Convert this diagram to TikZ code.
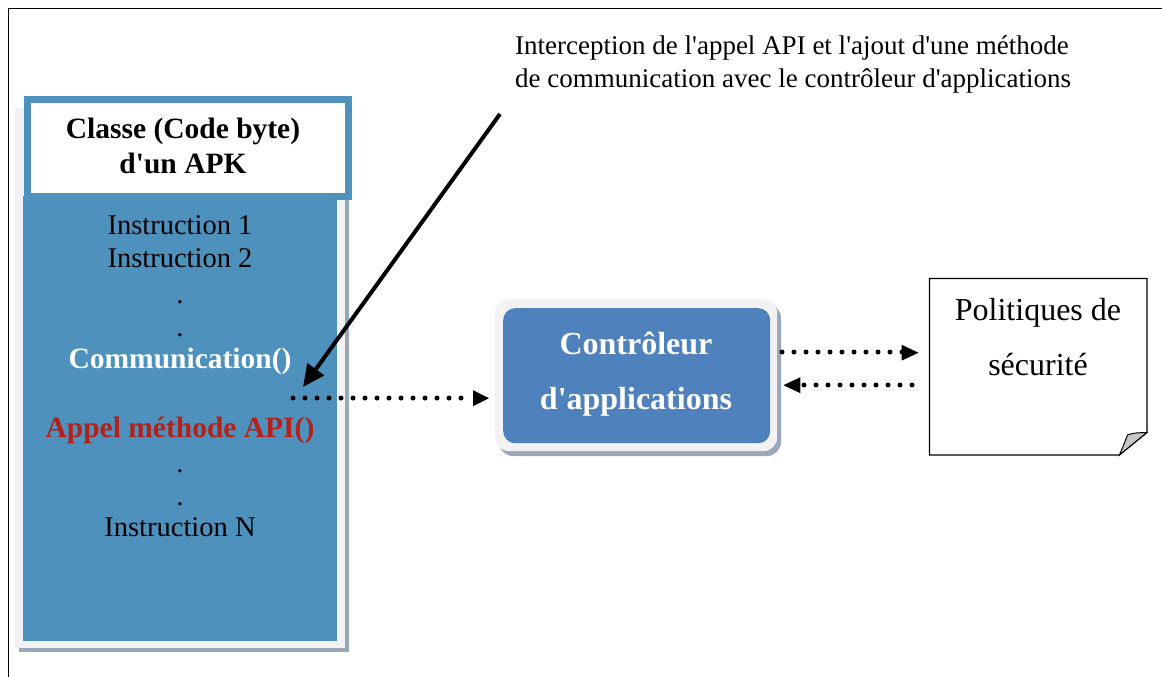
\documentclass[tikz,border=0pt]{standalone}
\usepackage{fontspec}
\setmainfont{Liberation Serif}[Ligatures=TeXOff]
\usetikzlibrary{arrows.meta,calc}
\definecolor{colblue}{HTML}{4E91BC}
\definecolor{ctlblue}{HTML}{4F81BD}
\definecolor{panelgray}{HTML}{F2F2F2}
\definecolor{shadowc}{HTML}{9AA6BA}
\definecolor{apired}{HTML}{B3211A}
\tikzset{
  txt/.style={font=\fontsize{28.5}{32}\selectfont, inner sep=0pt, anchor=base},
  btxt/.style={txt, font=\fontsize{29.5}{32}\selectfont\bfseries},
  bigtxt/.style={txt, font=\fontsize{32}{36}\selectfont},
  bigbtxt/.style={txt, font=\fontsize{32}{36}\selectfont\bfseries},
  toptxt/.style={txt, font=\fontsize{27}{30}\selectfont, anchor=base west},
  dotline/.style={line width=5pt, line cap=round, dash pattern=on 0pt off 12pt},
}
\begin{document}
\begin{tikzpicture}[x=1pt,y=-1pt]
\useasboundingbox (0,0) rectangle (1162,677);
% outer frame (left and top only visible)
\draw[line width=1.5pt] (8.5,677) -- (8.5,8.5) -- (1162,8.5);

% left column
\fill[shadowc] (19,110) rectangle (349,652);
\node[fill=panelgray, minimum width=330, minimum height=540, inner sep=0pt, anchor=north west] (panel) at (15,108) {};
\node[fill=colblue, minimum width=314, minimum height=445, inner sep=0pt, anchor=north west] (body) at (23,196) {};
\node[draw=colblue, line width=7pt, fill=white, minimum width=321, minimum height=97, inner sep=0pt, anchor=north west] (header) at (23.5,95.5) {};
\node[btxt] (h1) at (183,138) {Classe (Code byte)};
\node[btxt] (h2) at (183,173) {d'un APK};
\node[txt] (i1) at (180,234) {Instruction 1};
\node[txt] (i2) at (180,267) {Instruction 2};
\node[txt] (d1) at (180,303) {.};
\node[txt] (d2) at (180,336) {.};
\node[btxt, text=white] (comm) at (180,368) {Communication()};
\node[btxt, text=apired] (api) at (180,437) {Appel méthode API()};
\node[txt] (d3) at (180,472) {.};
\node[txt] (d4) at (180,505) {.};
\node[txt] (iN) at (180,536) {Instruction N};

% controller
\fill[shadowc, rounded corners=14pt] (499,304) rectangle (781,456);
\node[fill=panelgray, rounded corners=14pt, minimum width=282, minimum height=152, inner sep=0pt, anchor=north west] (ctlout) at (495,299) {};
\node[fill=ctlblue, rounded corners=12pt, minimum width=267, minimum height=135, inner sep=0pt, anchor=north west] (ctl) at (503,308) {};
\node[bigbtxt, text=white] (c1) at (636,354) {Contrôleur};
\node[bigbtxt, text=white] (c2) at (636,409) {d'applications};

% policy note
\node[minimum width=217, minimum height=176, inner sep=0pt, anchor=north west] (pol) at (929.5,278.5) {};
\draw[line width=1.2pt, fill=white] (pol.north west) -- (pol.north east) -- ($(pol.north east)+(0,154)$) -- ($(pol.south west)+(190,0)$) -- (pol.south west) -- cycle;
\draw[line width=1pt, fill=gray!45] ($(pol.south west)+(190,0)$) .. controls ($(pol.south west)+(195,-12)$) .. ($(pol.south west)+(198,-20)$) .. controls ($(pol.south west)+(205,-22)$) .. ($(pol.north east)+(0,154)$) -- cycle;
\node[bigtxt] (p1) at (1038,320) {Politiques de};
\node[bigtxt] (p2) at (1038,375) {sécurité};

% top annotation
\node[toptxt] (t1) at (515,55) {Interception de l'appel API et l'ajout d'une méthode};
\node[toptxt] (t2) at (515,88) {de communication avec le contrôleur d'applications};

% connectors
\coordinate (astart) at (500,114);
\coordinate (aend) at (303,387);
\draw[line width=4pt, -{Triangle[length=22pt,width=20pt]}] (astart) -- (aend);

% Class -> controller
\coordinate (s1) at (293,398);
\coordinate (s2) at (472,398);
\draw[dotline] (s1) -- (s2);
\fill ($(ctlout.west)+(-6,23)$) -- ++(-16,-8) -- ++(0,16) -- cycle;

% controller -> policies
\coordinate (r1) at (782,352);
\coordinate (r2) at (903,352);
\draw[dotline] (r1) -- (r2);
\fill ($(pol.west)+(-11,-14)$) -- ++(-17,-8) -- ++(0,16) -- cycle;

% policies -> controller
\coordinate (l1) at (912,385);
\coordinate (l2) at (800,385);
\draw[dotline] (l1) -- (l2);
\fill ($(ctlout.east)+(6,10)$) -- ++(17,-8) -- ++(0,16) -- cycle;
\end{tikzpicture}
\end{document}
